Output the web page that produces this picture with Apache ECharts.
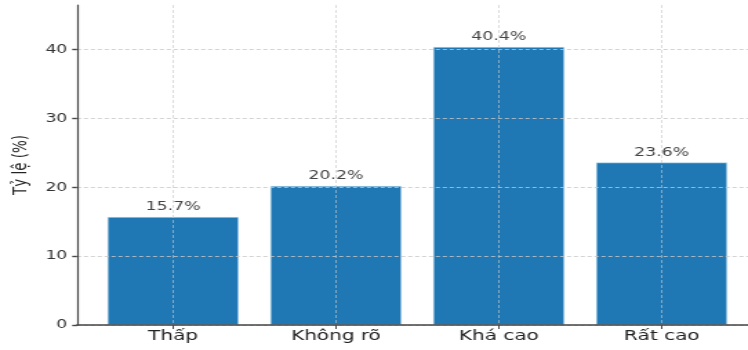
<!DOCTYPE html>
<html>
<head>
<meta charset="utf-8">
<script src="https://cdn.jsdelivr.net/npm/echarts@6/dist/echarts.min.js"></script>
<style>
  html, body { margin: 0; padding: 0; background: #fff; overflow: hidden; }
  #wrap { width: 748px; height: 350px; overflow: hidden; }
  /* the chart is laid out narrow and widened horizontally */
  #chart { width: 542px; height: 350px; transform: scaleX(1.38); transform-origin: 0 0; }
</style>
</head>
<body>
<div id="wrap"><div id="chart"></div></div>
<script>
// Share of responses by level
const categories = ['Thấp', 'Không rõ', 'Khá cao', 'Rất cao'];
const values = [15.7, 20.2, 40.4, 23.6];
const yTicks = [0, 10, 20, 30, 40];

const FONT = 'DejaVu Sans';
const positions = categories.map((_, i) => i);
const gridColor = 'rgba(200,200,200,0.8)';

const chart = echarts.init(document.getElementById('chart'), null, { renderer: 'canvas' });

chart.setOption({
  animation: false,
  backgroundColor: '#ffffff',
  grid: { left: 54, right: 0, top: 5, bottom: 25, containLabel: false },
  xAxis: {
    type: 'value',
    min: -0.59,
    max: 3.53,
    z: 5,
    axisLine: { show: true, onZero: false, lineStyle: { color: '#444', width: 1.6 } },
    axisTick: { show: true, customValues: positions, length: 4, lineStyle: { color: '#444', width: 1 } },
    axisLabel: {
      customValues: positions,
      formatter: v => categories[Math.round(v)] || '',
      fontFamily: FONT, fontSize: 14.5, color: '#222', margin: 4
    },
    splitLine: {
      show: true,
      customValues: positions,
      lineStyle: { color: gridColor, type: [3, 2], width: 0.8 }
    }
  },
  yAxis: {
    type: 'value',
    min: 0,
    max: 46.5,
    interval: 10,
    z: 5,
    name: 'Tỷ lệ (%)',
    nameLocation: 'middle',
    nameGap: 31,
    nameTextStyle: { fontFamily: FONT, fontSize: 13.5, color: '#222' },
    axisLine: { show: true, onZero: false, lineStyle: { color: '#444', width: 1.2 } },
    axisTick: { show: true, customValues: yTicks, length: 3.5, lineStyle: { color: '#444', width: 1.4 } },
    axisLabel: {
      customValues: yTicks,
      fontFamily: FONT, fontSize: 12.5, color: '#333', margin: 7
    },
    splitLine: {
      show: true,
      lineStyle: { color: gridColor, type: [3, 2], width: 1 }
    }
  },
  series: [{
    type: 'bar',
    data: values.map((v, i) => [i, v]),
    barWidth: 95,
    itemStyle: { color: '#1f77b4', borderColor: '#d6ecf8', borderWidth: 0.5 },
    label: {
      show: true,
      position: 'top',
      distance: 3.5,
      formatter: p => p.value[1].toFixed(1) + '%',
      fontFamily: FONT, fontSize: 12.5, color: '#444'
    }
  }]
});
</script>
</body>
</html>
